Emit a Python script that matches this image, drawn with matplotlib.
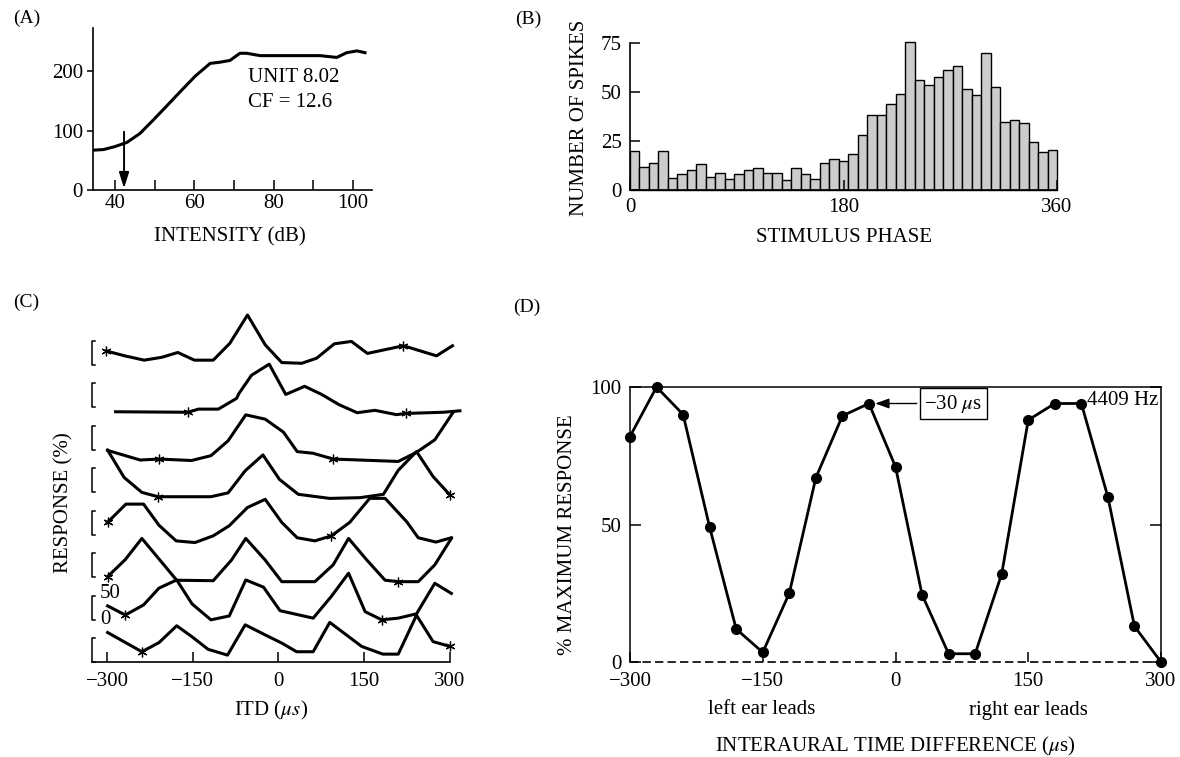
import matplotlib
matplotlib.use('Agg')
import matplotlib.pyplot as plt

plt.rcParams['font.family'] = ['Liberation Serif', 'DejaVu Serif']
plt.rcParams['mathtext.fontset'] = 'stix'
plt.rcParams['font.size'] = 15

W, H = 1180, 757

# ---------------- (A) rate vs intensity ----------------
intensity_db = [34.4, 37.1, 40, 43, 46.3, 49.7, 53, 56.4, 60.3, 64, 66.5, 69,
                71.5, 73.2, 76.6, 86.6, 91.7, 95.9, 98.4, 101, 103]
spike_rate = [67, 68, 73, 80, 95, 118, 141, 165, 192, 213, 215, 218,
              230, 230, 226, 226, 226, 223, 231, 234, 231]
threshold_db = 42.3

# ---------------- (B) period histogram ----------------
phase_bin_width = 8
spike_counts = [20, 12, 14, 20, 6, 8.3, 10, 13.4, 6.9, 8.6, 5.7, 8.3, 10, 11.4,
                8.8, 8.8, 5.2, 11.4, 8.3, 5.7, 13.8, 16, 14.8, 18.6, 27.9, 38.3,
                38.3, 44, 49.3, 75.9, 56.2, 53.6, 57.8, 61.4, 63.4, 51.6, 48.4,
                70.2, 52.8, 34.8, 36, 34.5, 24.7, 19.4, 20.2]

# ---------------- (C) stacked ITD curves, top to bottom ----------------
c1_itd = [-301, -269, -235, -204, -176, -147, -114, -85, -54, -23, 6, 41, 67, 98, 128, 156, 219, 277, 305]
c1_resp = [29, 19, 10, 16, 26, 10, 10, 45, 104, 42, 5, 3.5, 14, 44, 49, 24, 40, 19, 40]
c1_stars = [0, 16]
c2_itd = [-285, -158, -140, -105, -73, -69, -47, -16, 13, 46, 76, 106, 138, 169, 207, 223, 289, 318]
c2_resp = [-9, -10, -3.5, -3.5, 19, 29, 67, 90, 27, 44, 27, 6, -11, -6, -15, -12.5, -10, -7]
c2_stars = [1, 15]
c3_itd = [-299, -242, -209, -152, -118, -88, -57, -23, 9, 33, 61, 96, 210, 242, 274, 306]
c3_resp = [-1, -21, -19, -22, -12, 19, 73, 64, 37, -3.5, -7, -19, -24, -5, 21, 78]
c3_stars = [2, 11]
c4_itd = [-299, -270, -239, -211, -118, -88, -58, -27, 2, 35, 90, 143, 184, 210, 242, 271, 301]
c4_resp = [88, 31, 0, -9, -9, -1, 45, 78, 27, -4, -12.5, -11, -4, 46, 85, 33, -6]
c4_stars = [3, 16]
c5_itd = [-299, -267, -236, -209, -179, -146, -114, -86, -54, -23, 6, 33, 64, 93,
          125, 160, 187, 225, 245, 276, 303]
c5_resp = [26, 64, 64, 20, -12.5, -16, -2, 19, 57, 74, 26, -6, -12.5, -2,
           26, 76, 76, 27, -6, -15, -6]
c5_stars = [0, 13]
c6_itd = [-299, -268, -239, -178, -114, -82, -57, -23, 6, 64, 96, 123, 155, 187, 210, 245, 274, 303]
c6_resp = [1.5, 37, 81, -6, -7, 36, 81, 36, -9, -9, 26, 81, 36, -6, -9, -9, 26, 81]
c6_stars = [0, 14]
c7_itd = [-299, -268, -236, -209, -178, -151, -118, -86, -57, -26, 3, 61, 93, 123,
          152, 181, 210, 242, 274, 303]
c7_resp = [29, 10, 31, 66, 83, 33, 0, 8, 83, 68, 19, 3.5, 49, 97, 17, 0, 3.5, 12.5, 76, 55]
c7_stars = [1, 15]
c8_itd = [-299, -239, -209, -178, -151, -123, -89, -58, -23, 6, 32, 61, 90, 146,
          183, 210, 242, 271, 301]
c8_resp = [62, 22, 41, 76, 53, 27, 15, 78, 57, 40, 22, 22, 83, 33, 17, 17, 98, 43, 33]
c8_stars = [1, 18]
c_ticks = [-300, -150, 0, 150, 300]
c_tick_labels = ['\u2212300', '\u2212150', '0', '150', '300']

# ---------------- (D) ITD curve ----------------
itd_d = [-300, -270, -240, -210, -180, -150, -120, -90, -60, -30, 0,
         30, 60, 90, 120, 150, 180, 210, 240, 270, 300]
resp_d = [82, 100, 90, 49, 12, 3.5, 25, 67, 89.5, 94, 71,
          24.5, 3, 3, 32, 88, 94, 94, 60, 13, 0]
best_itd = -30


def box(l, t, r, b):
    return [l / W, 1 - b / H, (r - l) / W, (b - t) / H]


def ftext(x, y, s, **kw):
    fig.text(x / W, 1 - y / H, s, **kw)


fig = plt.figure(figsize=(11.8, 7.57), dpi=100)

# ---------- A ----------
axa = fig.add_axes(box(92.7, 28.3, 371.7, 190))
axa.plot(intensity_db, spike_rate, color='k', lw=2.2)
axa.annotate('', xy=(threshold_db, 3), xytext=(threshold_db, 98),
             arrowprops=dict(arrowstyle='-|>,head_length=0.63,head_width=0.2',
                             mutation_scale=15, color='k', lw=1.4,
                             shrinkA=0, shrinkB=0))
axa.text(73.6, 182, 'UNIT 8.02', va='baseline')
axa.text(73.6, 140, 'CF = 12.6', va='baseline')
axa.set_xlim(34.4, 104.7)
axa.set_ylim(0, 272)
axa.set_xticks([40, 50, 60, 70, 80, 90, 100], ['40', '', '60', '', '80', '', '100'])
axa.set_yticks([0, 100, 200])
axa.tick_params(axis='x', direction='in', length=7, width=1.1, pad=3)
axa.tick_params(axis='y', direction='out', length=4, width=1.1, pad=3)
for s in ['top', 'right']:
    axa.spines[s].set_visible(False)
for s in ['left', 'bottom']:
    axa.spines[s].set_linewidth(1.2)

# ---------- B ----------
axb = fig.add_axes(box(630, 43.3, 1057, 190))
left_edges = [i * phase_bin_width for i in range(len(spike_counts))]
axb.bar(left_edges, spike_counts, width=phase_bin_width, align='edge',
        color='#cccccc', edgecolor='k', linewidth=1.0, clip_on=False)
axb.set_xlim(0, 360)
axb.set_ylim(0, 75)
axb.set_xticks([0, 180, 360])
axb.set_yticks([0, 25, 50, 75])
axb.tick_params(axis='x', direction='in', length=7, width=1.1, pad=6)
axb.tick_params(axis='y', direction='in', length=7, width=1.1, pad=6)
for s in ['top', 'right']:
    axb.spines[s].set_visible(False)
for s in ['left', 'bottom']:
    axb.spines[s].set_linewidth(1.2)

# ---------- C ----------
axc = fig.add_axes(box(89.9, 300, 462.2, 662.3))
traces = [(c1_itd, c1_resp, c1_stars), (c2_itd, c2_resp, c2_stars),
          (c3_itd, c3_resp, c3_stars), (c4_itd, c4_resp, c4_stars),
          (c5_itd, c5_resp, c5_stars), (c6_itd, c6_resp, c6_stars),
          (c7_itd, c7_resp, c7_stars), (c8_itd, c8_resp, c8_stars)]
c_step = 88.4
n = len(traces)
for k, (xs, ys, stars) in enumerate(traces):
    base = (n - 1 - k) * c_step
    yy = [base + v for v in ys]
    axc.plot(xs, yy, color='k', lw=2.2, clip_on=False)
    axc.plot([xs[i] for i in stars], [yy[i] for i in stars], ls='none',
             marker=(6, 2, 0), ms=7, mew=0.9, color='k', clip_on=False)
    axc.plot([-321, -325.7, -325.7, -321], [base + 50, base + 50, base, base],
             color='k', lw=1.1, clip_on=False)
axc.text(-312, c_step + 55, '50', ha='left', va='center')
axc.text(-312, c_step, '0', ha='left', va='center')
axc.set_xlim(-330, 322)
axc.set_ylim(0, 754)
axc.set_xticks(c_ticks, c_tick_labels)
axc.set_yticks([])
axc.tick_params(axis='x', direction='in', length=7, width=1.1, pad=7)
for s in ['top', 'right', 'left']:
    axc.spines[s].set_visible(False)
axc.spines['bottom'].set_bounds(-325.7, 300)
axc.spines['bottom'].set_linewidth(1.2)

# ---------- D ----------
axd = fig.add_axes(box(630, 387, 1161, 662))
axd.axhline(0, color='k', lw=1.2, dashes=(5, 2.5), clip_on=False)
axd.plot(itd_d, resp_d, color='k', lw=2.0, marker='o', ms=7, clip_on=False)
peak_val = resp_d[itd_d.index(best_itd)]
axd.annotate('', xy=(best_itd + 7, peak_val), xytext=(24, peak_val),
             arrowprops=dict(arrowstyle='-|>,head_length=0.7,head_width=0.25',
                             mutation_scale=12, color='k', lw=1.0,
                             shrinkA=0, shrinkB=0))
axd.text(65.6, peak_val, '\u221230 $\\mu$s', ha='center', va='center',
         bbox=dict(boxstyle='square,pad=0.22', fc='white', ec='k', lw=1.0))
axd.text(216, 95, '4409 Hz', ha='left', va='center')
axd.set_xlim(-300, 300)
axd.set_ylim(0, 100)
axd.set_xticks(c_ticks, c_tick_labels)
axd.set_yticks([0, 50, 100])
axd.tick_params(axis='x', direction='in', length=7, width=1.1, pad=7)
axd.tick_params(axis='y', direction='in', length=8, width=1.1, pad=6, right=True)
axd.spines['bottom'].set_visible(False)
for s in ['top', 'right', 'left']:
    axd.spines[s].set_linewidth(1.1)

# ---------- labels ----------
ftext(13, 18, '(A)', va='center', fontsize=14)
ftext(515, 19, '(B)', va='center', fontsize=14)
ftext(13, 302, '(C)', va='center', fontsize=14)
ftext(513, 307, '(D)', va='center', fontsize=14)

ftext(230, 237, 'INTENSITY (dB)', ha='center', va='center')
ftext(843.5, 237, 'STIMULUS PHASE', ha='center', va='center')
ftext(580, 118, 'NUMBER OF SPIKES', ha='center', va='center', rotation=90)
ftext(64, 503, 'RESPONSE (%)', ha='center', va='center', rotation=90)
ftext(271, 710, 'ITD ($\\mu s$)', ha='center', va='center')
ftext(567, 535, '% MAXIMUM RESPONSE', ha='center', va='center', rotation=90)
ftext(762, 710, 'left ear leads', ha='center', va='center')
ftext(1028, 710, 'right ear leads', ha='center', va='center')
ftext(895, 746, 'INTERAURAL TIME DIFFERENCE ($\\mu$s)', ha='center', va='center')

fig.savefig('out.png', dpi=100)
